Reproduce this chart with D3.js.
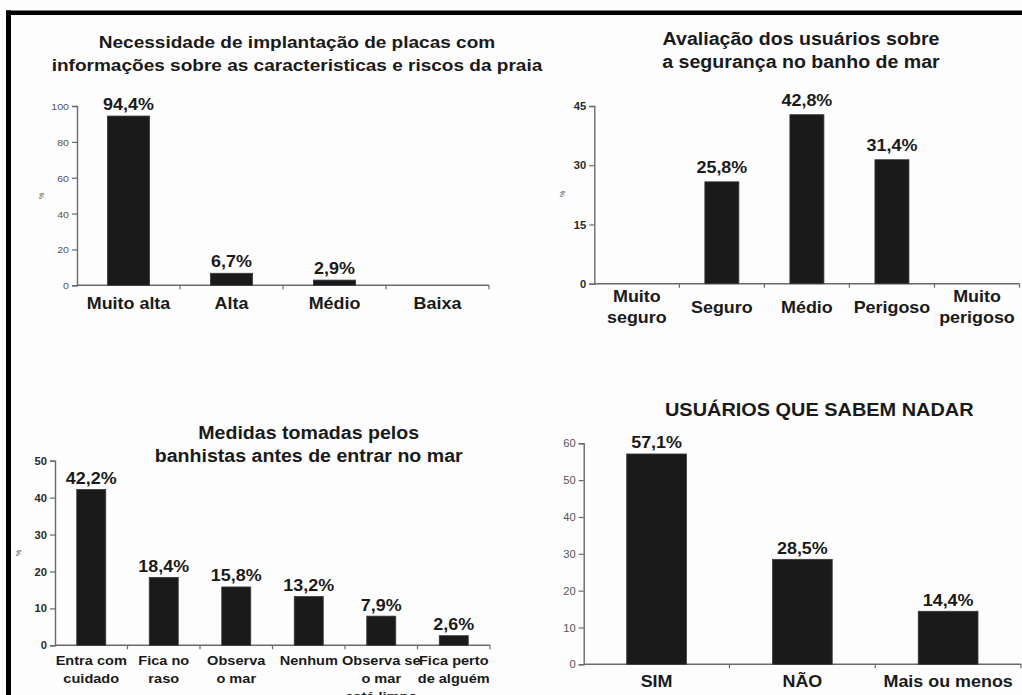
<!DOCTYPE html>
<html><head><meta charset="utf-8">
<script src="https://cdn.jsdelivr.net/npm/d3@7"></script>
<style>body{margin:0;background:#fff}svg{display:block}text{font-family:"Liberation Sans",Arial,sans-serif}</style>
</head><body><svg id="c" width="1022" height="695"></svg>
<script>
// ---------- DATA ----------
const placasTitle = ["Necessidade de implantação de placas com", "informações sobre as caracteristicas e riscos da praia"];
const placasCategories = ["Muito alta", "Alta", "Médio", "Baixa"];
const placasValues = [94.4, 6.7, 2.9, null];
const placasTicks = [0, 20, 40, 60, 80, 100];

const segurancaTitle = ["Avaliação dos usuários sobre", "a segurança no banho de mar"];
const segurancaCategories = ["Muito\nseguro", "Seguro", "Médio", "Perigoso", "Muito\nperigoso"];
const segurancaValues = [null, 25.8, 42.8, 31.4, null];
const segurancaTicks = [0, 15, 30, 45];

const medidasTitle = ["Medidas tomadas pelos", "banhistas antes de entrar no mar"];
const medidasCategories = ["Entra com\ncuidado", "Fica no\nraso", "Observa\no  mar", "Nenhum", "Observa se\no mar\nestá limpo", "Fica perto\nde alguém"];
const medidasValues = [42.2, 18.4, 15.8, 13.2, 7.9, 2.6];
const medidasTicks = [0, 10, 20, 30, 40, 50];

const nadarTitle = ["USUÁRIOS QUE SABEM NADAR"];
const nadarCategories = ["SIM", "NÃO", "Mais ou menos"];
const nadarValues = [57.1, 28.5, 14.4];
const nadarTicks = [0, 10, 20, 30, 40, 50, 60];

// ---------- LAYOUT ----------
const SX = 1.12;
const svg = d3.select("#c");
svg.append("rect").attr("width", 1022).attr("height", 695).attr("fill", "#fdfdfd");
svg.append("rect").attr("x", 6).attr("y", 10.5).attr("width", 1016).attr("height", 4.5).attr("fill", "#000");
svg.append("rect").attr("x", 6).attr("y", 10.5).attr("width", 5).attr("height", 685).attr("fill", "#000");

const fmt = v => d3.format(".1f")(v).replace(".", ",") + "%";

function txt(g, x, y, str, size, weight, anchor, fill) {
  return g.append("text")
    .attr("transform", `translate(${x},${y}) scale(${SX},1)`)
    .attr("font-size", size).attr("font-weight", weight)
    .attr("text-anchor", anchor || "middle")
    .attr("fill", fill || "#1a1a1a")
    .text(str);
}

function panel(cfg, title, cats, vals, ticks) {
  const g = svg.append("g");
  const x = d3.scaleBand().domain(cats).range([cfg.x0, cfg.x1]).paddingInner(cfg.pad).paddingOuter(cfg.pad / 2);
  const y = d3.scaleLinear().domain([0, d3.max(ticks)]).range([cfg.y0, cfg.yTop]);

  // title
  title.forEach((t, i) => txt(g, cfg.tx, cfg.tBase[i], t, cfg.tSize, "bold"));

  // y axis
  const ya = g.append("g").attr("transform", `translate(${cfg.x0},0)`)
    .call(d3.axisLeft(y).tickValues(ticks).tickSize(5).tickPadding(0));
  ya.select(".domain").attr("stroke", "#6a6a6a").attr("stroke-width", 1.4);
  ya.selectAll(".tick line").attr("stroke", "#6a6a6a").attr("stroke-width", 1.2);
  ya.selectAll(".tick text")
    .attr("x", null).attr("dy", null)
    .attr("transform", `translate(-8,${cfg.tickSize * 0.36}) scale(${SX},1)`)
    .attr("font-size", cfg.tickSize).attr("font-weight", cfg.tickBold ? "bold" : "normal")
    .attr("font-family", '"Liberation Sans",Arial,sans-serif')
    .attr("fill", cfg.tickBold ? "#2a2a2a" : "#555");

  // x axis
  g.append("line").attr("x1", cfg.x0).attr("x2", cfg.x1).attr("y1", cfg.y0).attr("y2", cfg.y0)
    .attr("stroke", "#6a6a6a").attr("stroke-width", 1.4);
  const bounds = d3.range(cats.length + 1).map(i => x.range()[0] + i * x.step());
  g.selectAll(".xt").data(bounds.slice(1)).join("line")
    .attr("x1", d => d).attr("x2", d => d).attr("y1", cfg.y0).attr("y2", cfg.y0 + 4)
    .attr("stroke", "#6a6a6a").attr("stroke-width", 1.2);

  // bars
  const data = cats.map((c, i) => ({ c, v: vals[i] })).filter(d => d.v != null);
  g.selectAll(".bar").data(data).join("rect")
    .attr("x", d => x(d.c)).attr("width", x.bandwidth())
    .attr("y", d => y(d.v)).attr("height", d => y(0) - y(d.v))
    .attr("fill", "#1a1a1a").attr("stroke", "#3a3a3a").attr("stroke-width", 0.8);

  // value labels
  data.forEach(d => txt(g, x(d.c) + x.bandwidth() / 2, y(d.v) - cfg.vOff, fmt(d.v), 16, "bold"));

  // category labels
  cats.forEach(c => {
    const lines = c.split("\n");
    const cx = x(c) + x.bandwidth() / 2;
    lines.forEach((l, i) => {
      const by = cfg.catAlign === "center"
        ? cfg.catBase + (i - (lines.length - 1) / 2) * cfg.catLH
        : cfg.catBase + i * cfg.catLH;
      txt(g, cx, by, l, cfg.catSize, "bold");
    });
  });

  // % label
  if (cfg.pct) {
    g.append("text").attr("transform", `translate(${cfg.pct[0]},${cfg.pct[1]}) rotate(-90)`)
      .attr("font-size", 7).attr("text-anchor", "middle").attr("fill", "#555").text("%");
  }
}

panel({ x0: 77, x1: 489, y0: 285.3, yTop: 106, pad: 0.59, tx: 297, tBase: [47.7, 71], tSize: 17,
        tickSize: 9.5, tickBold: false, vOff: 6, catSize: 16, catBase: 309, catAlign: "center", catLH: 20, pct: [44, 196] },
      placasTitle, placasCategories, placasValues, placasTicks);

panel({ x0: 594.3, x1: 1019.5, y0: 283.7, yTop: 106, pad: 0.6, tx: 801, tBase: [45, 68], tSize: 17.5,
        tickSize: 10, tickBold: true, vOff: 8.5, catSize: 16, catBase: 312.7, catAlign: "center", catLH: 20.5, pct: [565, 194] },
      segurancaTitle, segurancaCategories, segurancaValues, segurancaTicks);

panel({ x0: 55, x1: 490, y0: 645.3, yTop: 460.7, pad: 0.6, tx: 308.7, tBase: [439.3, 461.7], tSize: 17.5,
        tickSize: 10, tickBold: true, vOff: 5.6, catSize: 13, catBase: 664.5, catAlign: "top", catLH: 18, pct: [21, 553] },
      medidasTitle, medidasCategories, medidasValues, medidasTicks);

panel({ x0: 583.7, x1: 1021, y0: 664.3, yTop: 443.3, pad: 0.59, tx: 819.3, tBase: [416], tSize: 17.8,
        tickSize: 10, tickBold: false, vOff: 5.7, catSize: 16, catBase: 687, catAlign: "center", catLH: 20, pct: null },
      nadarTitle, nadarCategories, nadarValues, nadarTicks);
</script>
</body></html>
